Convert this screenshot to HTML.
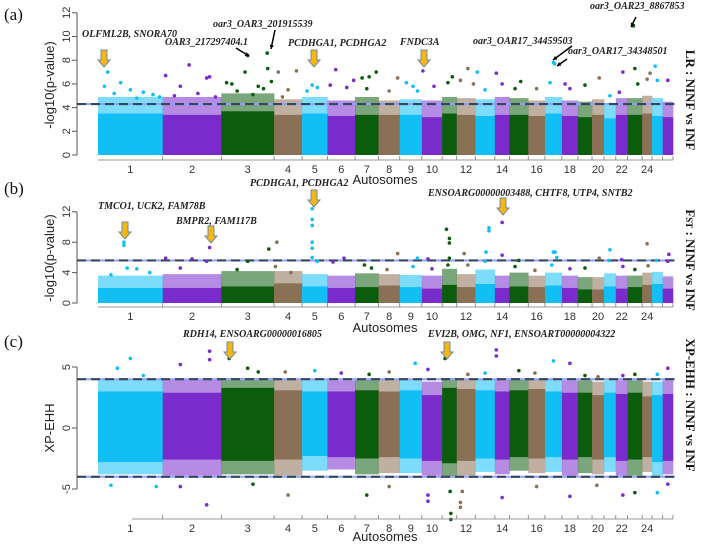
<!DOCTYPE html>
<html><head><meta charset="utf-8"><style>
html,body{margin:0;padding:0;background:#fff;}
svg{display:block;}
.tk{font-family:"Liberation Sans",sans-serif;font-size:11px;fill:#333;}
.ann{font-family:"Liberation Serif",serif;font-style:italic;font-weight:bold;font-size:10px;fill:#222;}
.pl{font-family:"Liberation Serif",serif;font-size:17px;fill:#111;}
.rt{font-family:"Liberation Serif",serif;font-weight:bold;font-size:13px;fill:#111;}
.ax{font-family:"Liberation Sans",sans-serif;font-size:13px;fill:#222;}
</style></head><body>
<svg id="fig" width="705" height="544" viewBox="0 0 705 544" xmlns="http://www.w3.org/2000/svg">
<text class="pl" x="4" y="20">(a)</text>
<text class="pl" x="4" y="194">(b)</text>
<text class="pl" x="4" y="347">(c)</text>
<text class="rt" transform="translate(686,100) rotate(90)" text-anchor="middle">LR : NINF vs INF</text>
<text class="rt" transform="translate(686,260) rotate(90)" text-anchor="middle">F<tspan font-size="9">ST</tspan> : NINF vs INF</text>
<text class="rt" transform="translate(686,405) rotate(90)" text-anchor="middle">XP-EHH : NINF vs INF</text>
<text class="ax" transform="translate(54,85) rotate(-90)" text-anchor="middle">-log10(p-value)</text>
<text class="ax" transform="translate(54,258) rotate(-90)" text-anchor="middle">-log10(p-value)</text>
<text class="ax" transform="translate(54,428) rotate(-90)" text-anchor="middle">XP-EHH</text>
<text class="ax" x="385" y="184" text-anchor="middle">Autosomes</text>
<text class="ax" x="385" y="332" text-anchor="middle">Autosomes</text>
<text class="ax" x="385" y="541" text-anchor="middle">Autosomes</text>
<g id="plots"></g>
<g id="anns"></g>
</svg>
<script>
const chromNames=["1","2","3","4","5","6","7","8","9","10","11","12","13","14","15","16","17","18","19","20","21","22","23","24","25","26"];
const chromLengths=[275,249,224,119,108,117,100,90,94,86,62,79,83,62,80,71,72,68,60,51,50,50,62,42,45,44];
const tickLabelsShown=["1","2","3","4","5","6","7","8","9","10","12","14","16","18","20","22","24"];
const bandTopA=[3.5,3.4,3.7,3.4,3.5,3.3,3.4,3.4,3.4,3.2,3.5,3.4,3.3,3.4,3.4,3.3,3.5,3.3,3.2,3.4,3.1,3.4,3.4,3.5,3.3,3.2];
const fringeA=[4.9,4.9,5.2,4.7,4.9,4.6,4.9,4.6,4.7,4.6,4.9,4.8,4.7,4.9,4.8,4.6,4.9,4.6,4.5,4.7,4.4,4.8,4.8,5.0,4.8,4.5];
const bandTopB=[2.0,2.0,2.2,2.6,2.2,2.0,2.1,2.3,2.1,1.9,2.4,2.1,2.5,2.0,2.2,2.1,2.3,2.0,1.8,1.8,2.2,1.9,2.1,2.4,2.5,1.9];
const fringeB=[3.6,3.8,4.2,4.2,3.8,3.6,3.9,3.8,3.7,3.6,4.5,3.8,4.4,3.6,4.0,3.6,4.0,3.6,3.4,3.4,3.9,3.6,3.6,4.0,4.1,3.5];
const bandUpC=[3.0,2.9,3.3,3.1,3.0,3.0,3.1,3.0,3.1,2.7,3.3,3.2,3.1,3.0,3.1,3.2,3.0,2.9,2.9,2.7,2.9,2.8,2.9,2.6,2.7,2.8];
const fringeUpC=[4.0,4.0,4.1,4.0,4.0,3.9,4.0,4.0,4.0,3.8,4.1,4.0,4.0,4.0,4.0,4.0,4.0,3.9,3.9,3.8,3.9,3.9,3.9,3.8,3.8,3.9];
const bandLowC=[-2.8,-2.6,-2.7,-2.6,-2.3,-2.4,-2.5,-2.4,-2.5,-2.7,-2.9,-2.7,-2.5,-2.6,-2.4,-2.5,-2.4,-2.6,-2.4,-2.6,-2.4,-2.7,-2.6,-2.4,-2.8,-2.7];
const fringeLowC=[-3.8,-3.9,-3.8,-3.9,-3.5,-3.4,-3.8,-3.7,-3.7,-3.9,-4.0,-3.9,-3.6,-3.8,-3.5,-3.7,-3.6,-3.9,-3.7,-3.8,-3.6,-3.9,-3.9,-3.6,-3.9,-3.8];
const peaksA=[[1,.15,7.0],[1,.35,6.1],[1,.1,5.8],[1,.5,5.5],[1,.7,5.3],[1,.85,5.1],[1,.95,4.9],[1,.25,5.2],[1,.6,4.8],
[2,.05,6.7],[2,.45,7.6],[2,.3,5.8],[2,.75,6.5],[2,.8,6.6],[2,.6,5.2],[2,.2,5.0],[2,.9,4.9],
[3,.5,8.4],[3,.45,7.0],[3,.87,8.6],[3,.88,7.3],[3,.1,6.1],[3,.2,6.0],[3,.7,5.8],[3,.95,6.2],[3,.3,5.4],[3,.6,5.1],[3,.8,5.6],
[4,.15,7.0],[4,.8,7.1],[4,.5,5.5],[4,.3,4.9],[5,.4,5.9],[5,.6,5.7],[5,.2,5.4],[6,.3,7.2],[6,.1,5.9],[6,.7,5.7],[6,.95,6.3],
[7,.3,6.5],[7,.6,6.6],[7,.9,7.0],[7,.5,5.6],[8,.9,6.5],[8,.5,5.4],[9,.3,6.1],[9,.6,5.8],[9,.8,5.4],[10,.05,7.1],[10,.6,5.8],
[11,.7,6.6],[11,.4,6.1],[12,.6,7.3],[12,.2,6.3],[12,.9,6.0],[13,.1,7.0],[13,.5,5.5],[14,.1,6.9],[14,.5,6.0],[15,.6,6.2],[15,.3,5.6],
[16,.5,5.6],[17,.5,7.8],[17,.57,7.7],[17,.3,6.1],[18,.5,5.6],[18,.2,6.0],[19,.5,5.9],[20,.6,6.5],[21,.5,5.0],[22,.6,7.0],[22,.3,5.3],
[23,.4,10.9],[23,.5,7.3],[23,.7,6.0],[24,.5,6.4],[24,.8,6.9],[25,.3,7.5],[25,.5,6.3],[26,.5,6.3]];
const peaksB=[[1,.4,8.0],[1,.4,7.6],[1,.45,4.6],[1,.6,4.5],[1,.2,3.7],[1,.8,4.0],[2,.8,7.3],[2,.05,5.9],[2,.5,5.8],[2,.75,5.5],[2,.3,4.6],
[3,.9,7.1],[3,.5,5.5],[3,.3,4.4],[4,.1,8.0],[4,.05,4.8],[4,.6,4.0],[5,.4,12.4],[5,.4,11.0],[5,.4,10.2],[5,.4,8.0],[5,.4,7.2],[5,.4,6.0],[5,.6,5.5],
[6,.6,5.9],[6,.2,5.4],[7,.4,5.0],[7,.7,4.6],[8,.9,6.5],[8,.4,4.4],[9,.8,5.9],[9,.6,4.8],[10,.3,5.8],[10,.5,4.5],
[11,.3,9.7],[11,.5,8.5],[11,.5,7.9],[11,.5,5.9],[11,.4,5.0],[12,.4,6.5],[12,.6,5.0],[13,.7,9.9],[13,.7,9.5],[13,.55,6.7],[13,.5,5.5],
[14,.5,10.6],[14,.5,6.3],[15,.5,5.6],[15,.3,4.8],[16,.4,4.3],[17,.5,6.7],[17,.6,6.7],[17,.7,6.0],[17,.4,5.0],[18,.5,4.5],[19,.5,4.6],
[20,.6,5.9],[21,.5,7.0],[21,.4,5.6],[22,.5,5.7],[22,.6,4.8],[23,.5,4.4],[24,.5,7.8],[24,.6,4.9],[25,.4,5.6],[26,.6,6.4],[26,.5,5.5]];
const peaksC=[[1,.5,5.7],[1,.3,4.9],[1,.7,4.3],[2,.8,6.3],[2,.3,5.2],[2,.8,5.6],[3,.15,5.7],[3,.5,4.9],[3,.7,4.6],[4,.4,4.6],[5,.5,4.7],[6,.5,4.5],
[7,.6,4.4],[8,.5,4.6],[9,.7,5.3],[10,.3,4.8],[11,.2,5.7],[12,.6,4.4],[13,.5,4.5],[14,.1,6.4],[14,.1,5.9],[15,.5,4.7],[16,.4,4.5],[17,.5,5.5],
[18,.5,5.3],[19,.5,4.3],[20,.5,4.2],[22,.6,4.3],[23,.5,4.4],[25,.5,4.4],[26,.5,4.9],
[1,.2,-4.7],[1,.9,-4.8],[2,.75,-6.3],[2,.3,-4.8],[3,.6,-4.6],[4,.5,-5.5],[7,.5,-5.5],[8,.5,-4.8],[10,.3,-6.0],[10,.3,-5.5],[11,.6,-7.5],[11,.6,-7.0],[11,.55,-5.2],
[12,.2,-6.5],[12,.2,-6.1],[12,.3,-5.2],[14,.5,-5.7],[16,.5,-4.8],[18,.5,-5.6],[20,.4,-4.7],[22,.6,-5.5],[23,.5,-5.3],[25,.5,-5.3],[26,.5,-4.6]];
const colors=["#12bff5","#7a2bcc","#0b5d0d","#8a7055"];
const NS="http://www.w3.org/2000/svg";
const X0=98,X1=673,total=chromLengths.reduce((a,b)=>a+b,0);
const starts=[];let acc=0;for(const l of chromLengths){starts.push(acc);acc+=l;}
function xs(i,f){return X0+(starts[i]+f*chromLengths[i])/total*(X1-X0);}
function mk(tag,attrs,parent){const e=document.createElementNS(NS,tag);for(const k in attrs)e.setAttribute(k,attrs[k]);parent.appendChild(e);return e;}
const plots=document.getElementById('plots');
function panel(name,ys,yTicks,bandLow,bandHigh,fringes,peaks,thr,xTickY,xLabelY,xAxisLeft){
  const g=mk('g',{},plots);
  
  
  const ya=mk('line',{x1:77,x2:77,y1:ys(yTicks[yTicks.length-1]),y2:ys(yTicks[0]),stroke:'#555','stroke-width':1},g);
  
  
  yTicks.forEach(v=>{
    mk('line',{x1:72,x2:77,y1:ys(v),y2:ys(v),stroke:'#555'},g);
    const t=mk('text',{class:'tk',transform:`translate(70,${ys(v)}) rotate(-90)`,'text-anchor':'middle'},g);
    
    
    t.textContent=String(v);
  });
  chromLengths.forEach((l,i)=>{
    const x=xs(i,0),w=xs(i,1)-xs(i,0)+0.3;
    fringes.forEach(fr=>{
      const a=fr[0](i),b=fr[1](i);
      const top=Math.min(ys(a),ys(b)),h=Math.abs(ys(a)-ys(b));
      const f=mk('rect',{x:x,y:top,width:w,height:h,fill:colors[i%4],opacity:0.55},g);
      
      
    });
    const lo=bandLow(i),hi=bandHigh(i);
    const r=mk('rect',{x:x,y:ys(hi),width:w,height:ys(lo)-ys(hi),fill:colors[i%4]},g);
    
    
  });
  thr.forEach(t=>{
    const th1=mk('line',{x1:77,x2:X1+2,y1:ys(t),y2:ys(t),stroke:'#8fa0ff','stroke-width':2},g);
    
    
    mk('line',{x1:77,x2:X1+2,y1:ys(t),y2:ys(t),stroke:'#36475c','stroke-width':2.2,'stroke-dasharray':'9,5'},g);
  });
  peaks.forEach(p=>{
    const i=p[0]-1;
    const c=mk('circle',{cx:xs(i,p[1]),cy:ys(p[2]),r:1.8,fill:colors[i%4]},g);
    
    
  });
  const xa=mk('line',{x1:xAxisLeft,x2:X1,y1:xTickY,y2:xTickY,stroke:'#777','stroke-width':0.8},g);
  
  
  chromLengths.forEach((l,i)=>{mk('line',{x1:xs(i,1),x2:xs(i,1),y1:xTickY,y2:xTickY-4,stroke:'#777','stroke-width':0.8},g);});
  chromNames.forEach((n,i)=>{
    if(tickLabelsShown.indexOf(n)<0)return;
    const t=mk('text',{class:'tk',x:xs(i,.5),y:xLabelY,'text-anchor':'middle','font-size':'12'},g);
    
    
    t.textContent=n;
  });
}
const ysA=v=>155-v*11.85;
panel('panel-a',ysA,[0,2,4,6,8,10,12],i=>0,i=>bandTopA[i],[[i=>bandTopA[i],i=>fringeA[i]]],peaksA,[4.3],160,173,X0);
const ysB=v=>303-v*7.6;
panel('panel-b',ysB,[0,4,8,12],i=>0,i=>bandTopB[i],[[i=>bandTopB[i],i=>fringeB[i]]],peaksB,[5.6],307,320,X0);
const ysC=v=>428-v*12.2;
panel('panel-c',ysC,[-5,0,5],i=>bandLowC[i],i=>bandUpC[i],[[i=>bandUpC[i],i=>fringeUpC[i]],[i=>fringeLowC[i],i=>bandLowC[i]]],peaksC,[4,-4],519,532,132);

const anns=document.getElementById('anns');
const textAnns=[["OLFML2B, SNORA70",82,37],["OAR3_217297404.1",165,45],["oar3_OAR3_201915539",213,27],["PCDHGA1, PCDHGA2",288,46],["FNDC3A",400,45],
["oar3_OAR17_34459503",473,44],["oar3_OAR17_34348501",568,54],["oar3_OAR23_8867853",590,9],
["PCDHGA1, PCDHGA2",250,186],["TMCO1, UCK2, FAM78B",98,209],["BMPR2, FAM117B",176,224],["ENSOARG00000003488, CHTF8, UTP4, SNTB2",428,196],
["RDH14, ENSOARG00000016805",183,337],["EVI2B, OMG, NF1, ENSOART00000004322",428,337]];
textAnns.forEach(a=>{const t=mk('text',{class:'ann',x:a[1],y:a[2]},anns);
  
  
  t.textContent=a[0];});
const orange=[[104,50],[314,50],[424,50],[314,190],[125,222],[211,226],[503,198],[230,342],[447,342]];
orange.forEach(o=>{const x=o[0],y=o[1];
  const p=mk('polygon',{points:`${x-3},${y} ${x+3},${y} ${x+3},${y+10} ${x+6},${y+10} ${x},${y+17} ${x-6},${y+10} ${x-3},${y+10}`,fill:'#f6b710',stroke:'#6f8aa8','stroke-width':1},anns);
  
  });
const black=[[236,48,249,56],[275,30,271,49],[572,46,553,60],[567,59,557,66],[636,17,631,27]];
black.forEach(b=>{const [x1,y1,x2,y2]=b;const l=mk('line',{x1,y1,x2,y2,stroke:'#000','stroke-width':1.5},anns);
  
  
  const ang=Math.atan2(y2-y1,x2-x1),s=4.5;
  mk('polygon',{points:`${x2},${y2} ${x2-s*Math.cos(ang-0.5)},${y2-s*Math.sin(ang-0.5)} ${x2-s*Math.cos(ang+0.5)},${y2-s*Math.sin(ang+0.5)}`,fill:'#000'},anns);});
</script>
</body></html>
